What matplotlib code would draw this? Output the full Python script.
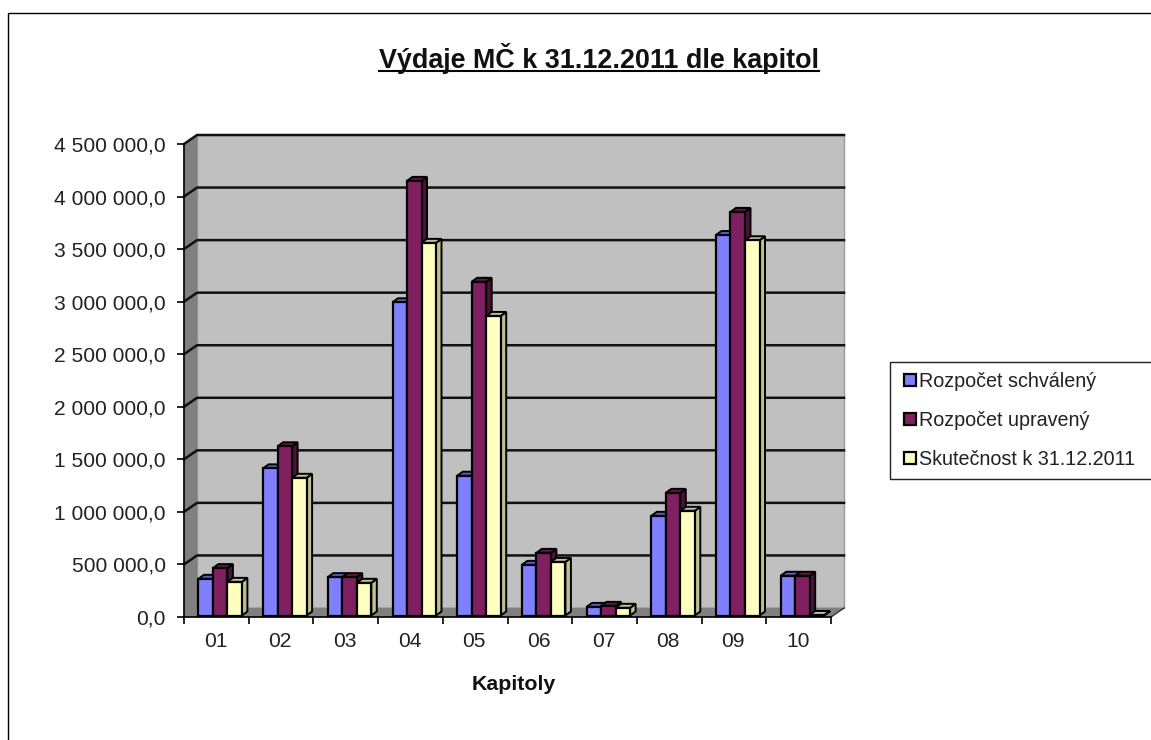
import matplotlib
matplotlib.use('Agg')
import matplotlib.pyplot as plt
from matplotlib.lines import Line2D
from matplotlib.patches import Patch, Rectangle

plt.rcParams['font.family'] = ['Liberation Sans', 'DejaVu Sans']

W, H = 1151, 740

# values
kapitoly = ['01', '02', '03', '04', '05', '06', '07', '08', '09', '10']
schvaleny = [349000, 1400000, 365000, 2980000, 1330000, 482000, 82000, 948000, 3620000, 378000]
upraveny = [451000, 1610000, 365000, 4135000, 3175000, 596000, 92000, 1167000, 3840000, 378000]
skutecnost = [320000, 1310000, 311000, 3545000, 2850000, 510000, 73000, 996000, 3570000, 5000]
y_ticks = [0, 500000, 1000000, 1500000, 2000000, 2500000, 3000000, 3500000, 4000000, 4500000]

series = [
    ('Rozpočet schválený', schvaleny, '#8080FF', '#5C5CC0', '#4C4C99'),
    ('Rozpočet upravený', upraveny, '#802060', '#601848', '#4C1339'),
    ('Skutečnost k 31.12.2011', skutecnost, '#FFFFC0', '#C0C090', '#BFBF90'),
]


def fx(px):
    return px / W


def fy(px):
    return 1 - px / H


fig = plt.figure(figsize=(W / 100, H / 100), dpi=100)
fig.add_artist(Rectangle((fx(8), fy(760)), 1.1, fy(13) - fy(760), fc='w', ec='k', lw=1.0, zorder=-1))

# front plane of the 3d box, in pixels
left, right, bottom, top = 184, 831, 617, 144
ax = fig.add_axes([fx(left), fy(bottom), fx(right - left), fy(top) - fy(bottom)])
ax.set_xlim(0, len(kapitoly))
ax.set_ylim(0, 4500000)
ax.patch.set_visible(False)

px_x = len(kapitoly) / (right - left)
px_y = 4500000 / (bottom - top)
depth_x, depth_y = 13 * px_x, 9 * px_y
ymax = y_ticks[-1]
n = len(kapitoly)

# walls and floor
ax.fill([depth_x, n + depth_x, n + depth_x, depth_x],
        [depth_y, depth_y, ymax + depth_y, ymax + depth_y],
        fc='#C0C0C0', ec='#9A9A9A', lw=1, clip_on=False, zorder=1)
ax.fill([0, depth_x, depth_x, 0], [0, depth_y, ymax + depth_y, ymax],
        fc='#808080', ec='#808080', lw=0.5, clip_on=False, zorder=1)
ax.fill([0, n, n + depth_x, depth_x], [0, 0, depth_y, depth_y],
        fc='#808080', ec='#808080', lw=0.5, clip_on=False, zorder=1)

for t in y_ticks[1:]:
    ax.plot([0, depth_x, n + depth_x], [t, t + depth_y, t + depth_y],
            color='#111111', lw=1.8, clip_on=False, zorder=2)
ax.plot([n, n + depth_x], [0, depth_y], color='#333333', lw=1.0, clip_on=False, zorder=2)

# bars
bar_w = 14.5 * px_x
bar_dx, bar_dy = 5.5 * px_x, 4 * px_y
lift_x, lift_y = 3.8 * px_x, 1.5 * px_y
z = 3
for k, (name, vals, front, roof, side) in enumerate(series):
    for i, v in enumerate(vals):
        x0 = i + 0.5 + lift_x + (k - 1.5) * bar_w
        x1 = x0 + bar_w
        y1 = lift_y + v
        ax.fill([x1, x1 + bar_dx, x1 + bar_dx, x1],
                [lift_y, lift_y + bar_dy, y1 + bar_dy, y1],
                fc=side, ec='k', lw=1.4, clip_on=False, zorder=z)
        ax.fill([x0, x0 + bar_dx, x1 + bar_dx, x1],
                [y1, y1 + bar_dy, y1 + bar_dy, y1],
                fc=roof, ec='k', lw=1.4, clip_on=False, zorder=z)
        ax.bar(x0, v, bar_w, bottom=lift_y, align='edge', color=front,
               edgecolor='k', lw=1.6, clip_on=False, zorder=z + 0.5)
    z += 1

# axes
for s in ['top', 'right']:
    ax.spines[s].set_visible(False)
for s in ['left', 'bottom']:
    ax.spines[s].set_linewidth(1.2)
    ax.spines[s].set_zorder(10)
ax.set_yticks(y_ticks)
ax.set_yticklabels([f'{t:,.1f}'.replace(',', ' ').replace('.', ',') for t in y_ticks])
ax.set_xticks(range(n + 1))
ax.set_xticklabels([])
ax.set_xticks([i + 0.5 - 1 * px_x for i in range(n)], minor=True)
ax.set_xticklabels(kapitoly, minor=True)
ax.tick_params(axis='y', length=5, width=1.2, labelsize=15.1, pad=8, labelcolor='#222222')
ax.tick_params(axis='x', which='major', length=5, width=1.2)
ax.tick_params(axis='x', which='minor', length=0, labelsize=15.1, pad=11, labelcolor='#222222')

fig.text(fx(514), fy(685), 'Kapitoly', ha='center', va='center', fontsize=15.4, fontweight='bold', color='#111111')

# title, underlined by hand
fig.text(fx(599), fy(58), 'Výdaje MČ k 31.12.2011 dle kapitol', ha='center', va='center',
         fontsize=19.4, fontweight='bold', color='#111111')
fig.add_artist(Line2D([fx(379), fx(819)], [fy(71), fy(71)], color='k', lw=1.5))

# legend
fig.add_artist(Rectangle((fx(890), fy(479)), fx(262), fy(362) - fy(479), fc='w', ec='#222222', lw=1.0))
handles = [Patch(fc=s[2], ec='k', lw=1.6) for s in series]
fig.legend(handles, [s[0] for s in series], loc='center left',
           bbox_to_anchor=(fx(904), fy(420.5)), frameon=False, fontsize=14.2,
           handlelength=0.6, handleheight=0.5, handletextpad=0.15,
           labelspacing=1.02, borderpad=0, borderaxespad=0, labelcolor='#222222')

fig.savefig('out.png', dpi=100)
